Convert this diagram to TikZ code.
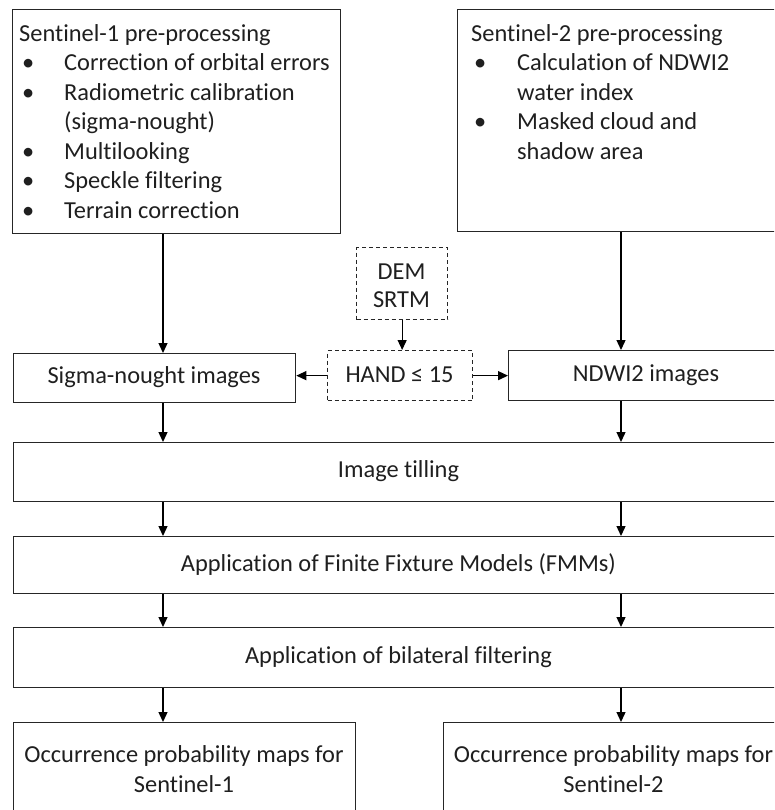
\documentclass[tikz,border=0pt]{standalone}
\usepackage{fontspec}
\setmainfont{Carlito}[RawFeature={-liga;-clig;-calt;-dlig;-rlig}]
\usetikzlibrary{arrows.meta}
\newcommand{\sbul}[1]{\makebox[#1][l]{\hspace{3pt}\textbullet}}
\newcommand{\sind}[1]{\hspace*{#1}}
\begin{document}
\begin{tikzpicture}[x=1pt,y=-1pt,
  box/.style={draw=black!85, line width=1.3pt, inner sep=0pt, anchor=north west},
  dbox/.style={box, dash pattern=on 4pt off 3pt},
  ft/.style={font=\fontsize{24.4}{29.5}\selectfont, text=black!88},
  txt/.style={ft, inner sep=0pt, align=left, anchor=north west},
  ctxt/.style={ft, inner sep=0pt, align=center},
  arr/.style={draw=black, line width=1.3pt, -{Triangle[length=10pt,width=9pt]}}]
\useasboundingbox (0,0) rectangle (774,810);
\clip (0,0) rectangle (774,810);

% coordinates for the two vertical flow lines
\coordinate (cl) at (163,0);
\coordinate (cr) at (621,0);

% top boxes
\node[box, minimum width=328pt, minimum height=224pt] (s1) at (12,9) {};
\node[txt] (s1t) at (19,24) {Sentinel-1 pre-processing\\
\sbul{45pt}Correction of orbital errors\\
\sbul{45pt}Radiometric calibration\\
\sind{45pt}(sigma-nought)\\
\sbul{45pt}Multilooking\\
\sbul{45pt}Speckle filtering\\
\sbul{45pt}Terrain correction};

\node[box, minimum width=327pt, minimum height=222pt] (s2) at (457,9) {};
\node[txt] (s2t) at (471,24) {Sentinel-2 pre-processing\\
\sbul{46pt}Calculation of NDWI2\\
\sind{46pt}water index\\
\sbul{46pt}Masked cloud and\\
\sind{46pt}shadow area};

% DEM and HAND
\node[dbox, minimum width=91pt, minimum height=72pt] (dem) at (356,247) {};
\node[ctxt, font=\fontsize{24.4}{28}\selectfont] (demt) at (401.5,286) {DEM\\SRTM};
\node[dbox, minimum width=145pt, minimum height=50pt] (hand) at (327,350) {};
\node[ctxt] (handt) at (399.5,375) {HAND ≤ 15};

% image boxes
\node[box, minimum width=282pt, minimum height=49pt] (sig) at (13,353) {};
\node[ctxt] (sigt) at (154,377.5) {Sigma-nought images};
\node[box, minimum width=276pt, minimum height=50pt] (ndwi) at (508,350) {};
\node[ctxt] (ndwit) at (646,375) {NDWI2 images};

% wide boxes
\node[box, minimum width=771pt, minimum height=59pt] (til) at (13,442) {};
\node[ctxt] (tilt) at (398.5,471.5) {Image tilling};
\node[box, minimum width=771pt, minimum height=57pt] (fmm) at (13,536) {};
\node[ctxt] (fmmt) at (398.5,564.5) {Application of Finite Fixture Models (FMMs)};
\node[box, minimum width=771pt, minimum height=60pt] (bil) at (13,627) {};
\node[ctxt] (bilt) at (398.5,657) {Application of bilateral filtering};

% bottom boxes
\node[box, minimum width=342pt, minimum height=110pt] (o1) at (13,722) {};
\node[ctxt] (o1t) at (184,769) {Occurrence probability maps for\\Sentinel-1};
\node[box, minimum width=341pt, minimum height=110pt] (o2) at (443,722) {};
\node[ctxt] (o2t) at (613.5,769) {Occurrence probability maps for\\Sentinel-2};

% connectors
\draw[arr] (s1.south -| cl) -- (sig.north -| cl);
\draw[arr] (s2.south -| cr) -- (ndwi.north -| cr);
\draw[arr] (dem.south) -- (dem.south |- hand.north);
\draw[arr] (hand.west) -- (hand.west -| sig.east);
\draw[arr] (hand.east) -- (hand.east -| ndwi.west);
\draw[arr] (sig.south -| cl) -- (til.north -| cl);
\draw[arr] (ndwi.south -| cr) -- (til.north -| cr);
\draw[arr] (til.south -| cl) -- (fmm.north -| cl);
\draw[arr] (til.south -| cr) -- (fmm.north -| cr);
\draw[arr] (fmm.south -| cl) -- (bil.north -| cl);
\draw[arr] (fmm.south -| cr) -- (bil.north -| cr);
\draw[arr] (bil.south -| cl) -- (o1.north -| cl);
\draw[arr] (bil.south -| cr) -- (o2.north -| cr);
\end{tikzpicture}
\end{document}
